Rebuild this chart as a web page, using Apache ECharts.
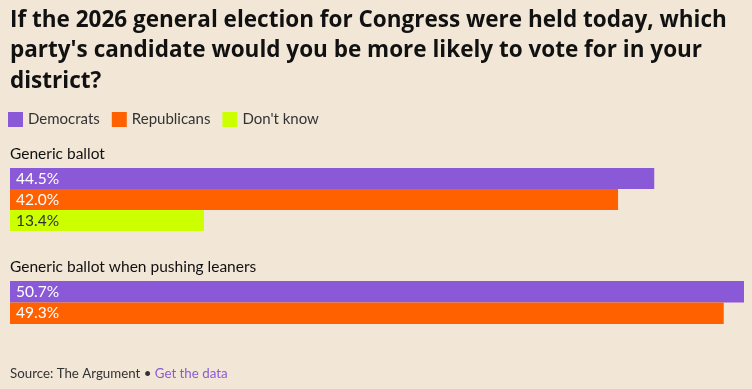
<!DOCTYPE html>
<html><head><meta charset="utf-8">
<script src="https://cdn.jsdelivr.net/npm/echarts@6/dist/echarts.min.js"></script>
<style>html,body{margin:0;padding:0;background:#F2E7D7;}#c{width:752px;height:389px;}</style>
</head><body><div id="c"></div>
<script>
const titleLines = ["If the 2026 general election for Congress were held today, which", "party's candidate would you be more likely to vote for in your", "district?"];
const seriesNames = ["Democrats", "Republicans", "Don't know"];
const groupLabels = ["Generic ballot", "Generic ballot when pushing leaners"];
const group1Values = [44.5, 42.0, 13.4];
const group2Values = [50.7, 49.3];
const colors = ["#8A59D7", "#FF6000", "#CCFF00"];
const labelColors = ["#ffffff", "#ffffff", "#333333"];
const sourceText = "Source: The Argument";
const linkText = "Get the data";

const FONT = "Lato";
const TFONT = "Open Sans";
const chart = echarts.init(document.getElementById('c'), null, {renderer:'canvas'});

function mkSeries(vals, gi) {
  return vals.map((v, i) => ({
    name: seriesNames[i], type: 'bar', xAxisIndex: gi, yAxisIndex: gi,
    data: [v], barWidth: gi === 0 ? 21 : 21.5, barGap: '0%',
    itemStyle: {color: colors[i]},
    label: {show: true, position: 'insideLeft', distance: 6, color: labelColors[i],
      fontFamily: FONT, fontSize: 15.5,
      formatter: p => p.value.toFixed(1) + '%'},
    silent: true
  }));
}

const option = {
  backgroundColor: '#F2E7D7',
  animation: false,
  legend: {
    data: seriesNames, left: 8, top: 112, itemWidth: 15, itemHeight: 15, itemGap: 12,
    icon: 'rect', textStyle: {fontFamily: FONT, fontSize: 15, color: '#333'}, padding: 0
  },
  grid: [
    {left: 10, top: 168, width: 734, height: 63},
    {left: 10, top: 281, width: 734, height: 43}
  ],
  xAxis: [
    {gridIndex: 0, type: 'value', min: 0, max: 50.7, show: false},
    {gridIndex: 1, type: 'value', min: 0, max: 50.7, show: false}
  ],
  yAxis: [
    {gridIndex: 0, type: 'category', data: [groupLabels[0]], inverse: true, show: false},
    {gridIndex: 1, type: 'category', data: [groupLabels[1]], inverse: true, show: false}
  ],
  series: [...mkSeries(group1Values, 0), ...mkSeries(group2Values, 1)],
  graphic: [
    ...titleLines.map((t, i) => ({type: 'text', left: 10, top: 9 + i * 30.5,
      style: {text: t, fontFamily: TFONT, fontWeight: 'bold', fontSize: 22.5, fill: '#111'}})),
    {type: 'text', left: 10, top: 146, style: {text: groupLabels[0], fontFamily: FONT, fontSize: 15.5, fill: '#111'}},
    {type: 'text', left: 10, top: 259, style: {text: groupLabels[1], fontFamily: FONT, fontSize: 15.5, fill: '#111'}},
    {type: 'text', left: 10, top: 367, style: {
      text: '{a|' + sourceText + ' \u2022 }{b|' + linkText + '}',
      rich: {a: {fontFamily: FONT, fontSize: 13.3, fill: '#333', color: '#333'},
             b: {fontFamily: FONT, fontSize: 13.3, fill: '#8A59D7', color: '#8A59D7'}}}}
  ]
};
chart.setOption(option);
</script></body></html>
